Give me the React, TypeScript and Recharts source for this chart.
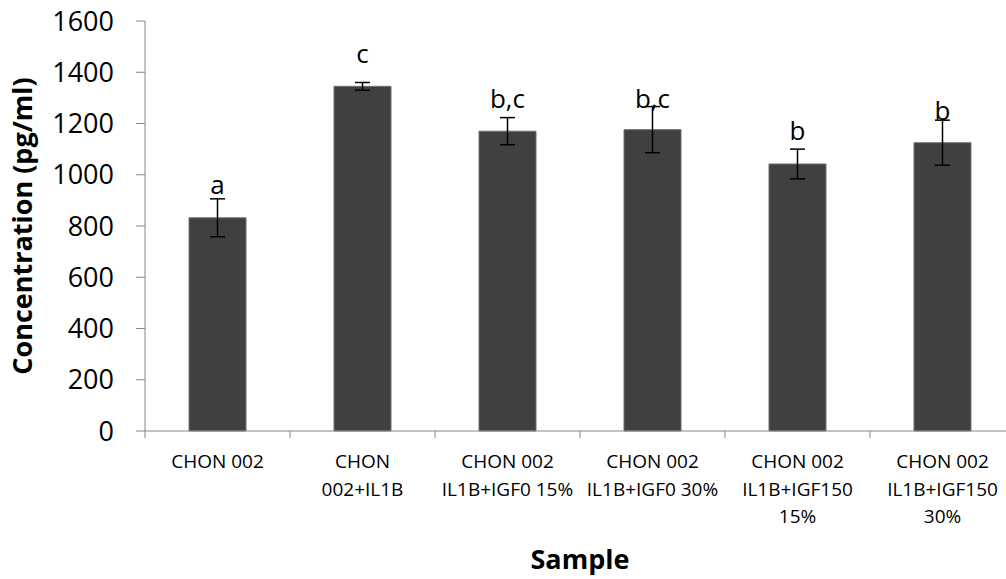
import React from "react"
import {
  Bar,
  ComposedChart,
  ErrorBar,
  Line,
  XAxis,
  YAxis,
} from "recharts"

const categories = [
  "CHON 002",
  "CHON\n002+IL1B",
  "CHON 002\nIL1B+IGF0 15%",
  "CHON 002\nIL1B+IGF0 30%",
  "CHON 002\nIL1B+IGF150\n15%",
  "CHON 002\nIL1B+IGF150\n30%",
]
const concentration = [832, 1345, 1170, 1176, 1042, 1125]
const errors = [74, 15, 53, 90, 58, 88]
const letters = ["a", "c", "b,c", "b,c", "b", "b"]
// baseline of each significance letter, in pg/ml
const letterAt = [924, 1435, 1260, 1260, 1136, 1214]
const yTicks = [0, 200, 400, 600, 800, 1000, 1200, 1400, 1600]

const FONT = "'Open Sans', sans-serif"
const AXIS = "#868686"
const W = 1020
const H = 579
const Y_W = 145
const RIGHT = 5
const HALF_BAND = (W - Y_W - RIGHT) / categories.length / 2

const data = categories.map((name, i) => ({
  name,
  value: concentration[i],
  err: errors[i],
  letter: letters[i],
  letterAt: letterAt[i],
}))

function CategoryTick(props: any) {
  const { x, y, payload } = props
  const lines = String(payload.value).split("\n")
  return (
    <g>
      <line x1={x - HALF_BAND} y1={y} x2={x - HALF_BAND} y2={y + 7} stroke={AXIS} strokeWidth={1} />
      <text x={x} y={y + 37} textAnchor="middle" fontFamily={FONT} fontSize={19} fill="#000">
        {lines.map((l, i) => (
          <tspan key={i} x={x} dy={i === 0 ? 0 : 27.5}>
            {l}
          </tspan>
        ))}
      </text>
    </g>
  )
}

function LetterDot(props: any) {
  const { cx, cy, payload, index } = props
  return (
    <text key={index} x={cx} y={cy} textAnchor="middle" fontFamily={FONT} fontSize={26} fill="#000">
      {payload.letter}
    </text>
  )
}

export default function App() {
  return (
    <div style={{ position: "absolute", left: 0, top: 0, width: 1006, height: 579, overflow: "hidden", background: "#fff" }}>
      <ComposedChart
        width={W}
        height={H}
        data={data}
        margin={{ top: 21, right: RIGHT, bottom: 0, left: 0 }}
      >
        <XAxis
          dataKey="name"
          height={148}
          interval={0}
          tickLine={false}
          tickSize={0}
          tickMargin={0}
          axisLine={{ stroke: AXIS, strokeWidth: 1 }}
          tick={<CategoryTick />}
          label={{
            value: "Sample",
            position: "insideBottom",
            offset: 10,
            style: { fontFamily: FONT, fontSize: 27, fontWeight: 700, fill: "#000" },
          }}
        />
        <YAxis
          width={Y_W}
          domain={[0, 1600]}
          ticks={yTicks}
          interval={0}
          tickSize={9}
          tickMargin={22}
          tickLine={{ stroke: AXIS, strokeWidth: 1 }}
          axisLine={{ stroke: AXIS, strokeWidth: 1 }}
          tick={{ fontFamily: FONT, fontSize: 27, fill: "#000" }}
          label={{
            value: "Concentration (pg/ml)",
            angle: -90,
            position: "insideLeft",
            offset: 22,
            style: { fontFamily: FONT, fontSize: 27, fontWeight: 700, fill: "#000", textAnchor: "middle" },
          }}
        />
        <Bar dataKey="value" barSize={57} fill="#404040" stroke="#6e6e6e" strokeWidth={1} isAnimationActive={false}>
          <ErrorBar dataKey="err" width={7.5} stroke="#000" strokeWidth={1.5} direction="y" />
        </Bar>
        <Line
          dataKey="letterAt"
          stroke="none"
          dot={<LetterDot />}
          activeDot={false}
          isAnimationActive={false}
        />
      </ComposedChart>
    </div>
  )
}
